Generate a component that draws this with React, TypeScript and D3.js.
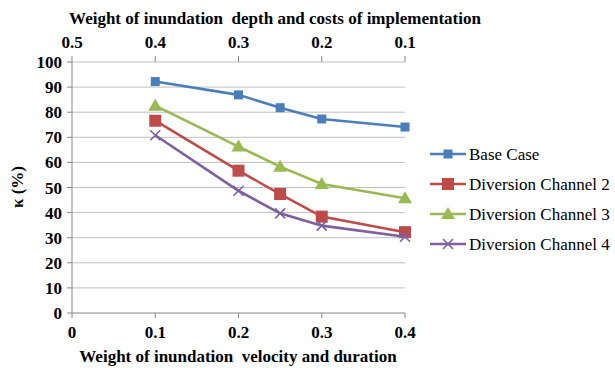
import React from 'react';
import * as d3 from 'd3';

const xValues = [0.1, 0.2, 0.25, 0.3, 0.4];
const baseCase = [92.2, 86.9, 81.8, 77.3, 74.1];
const channel2 = [76.6, 56.7, 47.4, 38.4, 32.2];
const channel3 = [82.6, 66.3, 58.3, 51.4, 45.7];
const channel4 = [70.8, 48.7, 39.7, 34.8, 30.4];
const seriesNames = ['Base Case', 'Diversion Channel 2', 'Diversion Channel 3', 'Diversion Channel 4'];
const bottomTicks = [0, 0.1, 0.2, 0.3, 0.4];
const topTicks = [0.5, 0.4, 0.3, 0.2, 0.1];
const yTicks = [0, 10, 20, 30, 40, 50, 60, 70, 80, 90, 100];

const colors = ['#4A7EBB', '#BE4B48', '#98B954', '#7D60A0'];
const markers = ['square', 'bigsquare', 'triangle', 'cross'];
const font = 'Liberation Serif';

const Marker = ({ type, x, y, color }: { type: string; x: number; y: number; color: string }) => {
  if (type === 'square') return <rect x={x - 4.5} y={y - 4.5} width={9} height={9} fill={color} />;
  if (type === 'bigsquare') return <rect x={x - 6} y={y - 6} width={12} height={12} fill={color} />;
  if (type === 'triangle') {
    return <path d={`M${x},${y - 7}L${x + 7},${y + 5}L${x - 7},${y + 5}Z`} fill={color} />;
  }
  return (
    <g stroke={color} strokeWidth={1.6}>
      <line x1={x - 5} y1={y - 5} x2={x + 5} y2={y + 5} />
      <line x1={x - 5} y1={y + 5} x2={x + 5} y2={y - 5} />
    </g>
  );
};

export default function App() {
  const width = 615;
  const height = 368;
  const x = d3.scaleLinear().domain([0, 0.4]).range([72, 405]);
  const xTop = d3.scaleLinear().domain([0.5, 0.1]).range([72, 405]);
  const y = d3.scaleLinear().domain([0, 100]).range([313, 62]);
  const data = [baseCase, channel2, channel3, channel4];
  const line = d3.line<number>().x((_, i) => x(xValues[i])).y(d => y(d));

  return (
    <svg width={width} height={height} fontFamily={font} style={{ position: 'absolute', left: 0, top: 0, background: '#fff' }}>
      <style>{`text { font-family: 'Liberation Serif', serif; }`}</style>
      {yTicks.map(t => (
        <g key={t}>
          {t > 0 && <line x1={72} x2={405} y1={y(t)} y2={y(t)} stroke="#BFBFBF" strokeWidth={1} />}
          <line x1={67} x2={72} y1={y(t)} y2={y(t)} stroke="#868686" />
          <text x={62} y={y(t) + 6} textAnchor="end" fontFamily={font} fontWeight="bold" fontSize={17}>{t}</text>
        </g>
      ))}
      <line x1={72} x2={72} y1={y(100)} y2={y(0)} stroke="#868686" />
      <line x1={72} x2={405} y1={y(0)} y2={y(0)} stroke="#868686" />
      {bottomTicks.map(t => (
        <g key={t}>
          <line x1={x(t)} x2={x(t)} y1={313} y2={318} stroke="#868686" />
          <text x={x(t)} y={338} textAnchor="middle" fontFamily={font} fontWeight="bold" fontSize={17}>{t}</text>
        </g>
      ))}
      {topTicks.map(t => (
        <g key={t}>
          <line x1={xTop(t)} x2={xTop(t)} y1={56} y2={62} stroke="#868686" />
          <text x={xTop(t)} y={48} textAnchor="middle" fontFamily={font} fontWeight="bold" fontSize={17}>{t}</text>
        </g>
      ))}
      <text x={275} y={24} textAnchor="middle" fontFamily={font} fontWeight="bold" fontSize={17} xmlSpace="preserve">
        Weight of inundation  depth and costs of implementation
      </text>
      <text x={238} y={362} textAnchor="middle" fontFamily={font} fontWeight="bold" fontSize={17} xmlSpace="preserve">
        Weight of inundation  velocity and duration
      </text>
      <text transform={`translate(23,${187}) rotate(-90)`} textAnchor="middle" fontFamily={font} fontWeight="bold" fontSize={17}>
        κ (%)
      </text>
      {data.map((s, si) => (
        <g key={si}>
          <path d={line(s)!} fill="none" stroke={colors[si]} strokeWidth={2.6} />
          {s.map((v, i) => (
            <Marker key={i} type={markers[si]} x={x(xValues[i])} y={y(v)} color={colors[si]} />
          ))}
        </g>
      ))}
      {seriesNames.map((n, i) => {
        const ly = 154 + i * 30;
        return (
          <g key={n}>
            <line x1={430} x2={466} y1={ly} y2={ly} stroke={colors[i]} strokeWidth={2.6} />
            <Marker type={markers[i]} x={448} y={ly} color={colors[i]} />
            <text x={469} y={ly + 6} fontFamily={font} fontSize={17}>{n}</text>
          </g>
        );
      })}
    </svg>
  );
}
